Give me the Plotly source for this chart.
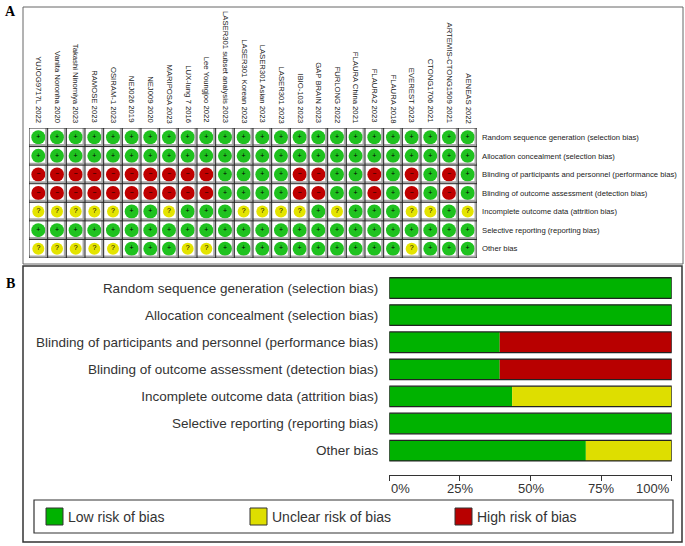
import plotly.graph_objects as go

# studies (columns of the summary grid)
studies = [
    "YUJOG9717L 2022", "Vanita Noronha 2020", "Takashi Ninomiya 2023", "RAMOSE 2023",
    "OSIRAM-1 2023", "NEJ026 2019", "NEJ009 2020", "MARIPOSA 2023", "LUX-lung 7 2016",
    "Lee Youngjoo 2022", "LASER301 subset analysis 2023", "LASER301 Korean 2023",
    "LASER301 Asian 2023", "LASER301 2023", "IBIO-103 2023", "GAP BRAIN 2023",
    "FURLONG 2022", "FLAURA China 2021", "FLAURA2 2023", "FLAURA 2018",
    "EVEREST 2023", "CTONG1706 2021", "ARTEMIS-CTONG1509 2021", "AENEAS 2022",
]

domains = [
    "Random sequence generation (selection bias)",
    "Allocation concealment (selection bias)",
    "Blinding of participants and personnel (performance bias)",
    "Blinding of outcome assessment (detection bias)",
    "Incomplete outcome data (attrition bias)",
    "Selective reporting (reporting bias)",
    "Other bias",
]

# judgements per domain, one char per study: + low, - high, ? unclear
judgements = [
    "++++++++++++++++++++++++",
    "++++++++++++++++++++++++",
    "----------++++--++-+-+-+",
    "----------++++--++-+-+-+",
    "?????++?+++????+?+++??+?",
    "++++++++++++++++++++++++",
    "?????+++??++++++++++?+++",
]

# percentages shown in panel B
low_pct = [100, 100, 39.1, 39.1, 43.5, 100, 69.6]
unclear_pct = [0, 0, 0, 0, 56.5, 0, 30.4]
high_pct = [0, 0, 60.9, 60.9, 0, 0, 0]

W, H = 685, 546
FONT = "Liberation Sans"
GREEN_DOT, RED_DOT, YELLOW_DOT = "#1fc21f", "#c00000", "#e4e400"
GREEN, YELLOW, RED = "#00b200", "#dede00", "#b80000"


def px(x):
    return x / W


def py(y):
    return 1 - y / H


fig = go.Figure()

# ---- panel A: dots
styles = {
    "+": (GREEN_DOT, 14, "+"),
    "-": (RED_DOT, 14, "\u2212"),
    "?": (YELLOW_DOT, 12, "?"),
}
for key, (color, size, sym) in styles.items():
    xs, ys = [], []
    for r, row in enumerate(judgements):
        for c, j in enumerate(row):
            if j == key:
                xs.append(c)
                ys.append(r)
    fig.add_trace(go.Scatter(
        x=xs, y=ys, mode="markers+text", text=[sym] * len(xs),
        textposition="middle center",
        textfont=dict(size=7, color="black", family=FONT),
        marker=dict(color=color, size=size, line=dict(width=0)),
        xaxis="x", yaxis="y", showlegend=False, hoverinfo="skip",
    ))

shapes = []
# grid lines with grey shadow
for i in range(len(studies) + 1):
    shapes.append(dict(type="line", xref="x", yref="y", x0=i - 0.58, x1=i - 0.58,
                       y0=-0.5, y1=6.5, line=dict(color="#a8a8a8", width=2)))
for j in range(len(domains) + 1):
    shapes.append(dict(type="line", xref="x", yref="y", x0=-0.5, x1=23.5,
                       y0=j - 0.58, y1=j - 0.58, line=dict(color="#a8a8a8", width=2)))
for i in range(len(studies) + 1):
    shapes.append(dict(type="line", xref="x", yref="y", x0=i - 0.5, x1=i - 0.5,
                       y0=-0.5, y1=6.5, line=dict(color="#222", width=1)))
for j in range(len(domains) + 1):
    shapes.append(dict(type="line", xref="x", yref="y", x0=-0.5, x1=23.5,
                       y0=j - 0.5, y1=j - 0.5, line=dict(color="#222", width=1)))

annotations = []
for i, s in enumerate(studies):
    annotations.append(dict(x=i, xref="x", y=py(125), yref="paper", text=s,
                            textangle=90, xanchor="center", yanchor="bottom",
                            showarrow=False, font=dict(size=7.7, family=FONT, color="#222")))

# ---- panel B: stacked bars
cum = [a + b for a, b in zip(low_pct, unclear_pct)]
ypos = list(range(len(domains)))
fig.add_trace(go.Bar(y=ypos, x=low_pct, base=[0] * 7, orientation="h", width=0.76,
                     marker=dict(color=GREEN, line=dict(width=0)),
                     xaxis="x2", yaxis="y2", showlegend=False, hoverinfo="skip"))
fig.add_trace(go.Bar(y=ypos, x=unclear_pct, base=low_pct, orientation="h", width=0.76,
                     marker=dict(color=YELLOW, line=dict(width=0)),
                     xaxis="x2", yaxis="y2", showlegend=False, hoverinfo="skip"))
fig.add_trace(go.Bar(y=ypos, x=high_pct, base=cum, orientation="h", width=0.76,
                     marker=dict(color=RED, line=dict(width=0)),
                     xaxis="x2", yaxis="y2", showlegend=False, hoverinfo="skip"))
fig.add_trace(go.Bar(y=ypos, x=[100] * 7, base=[0] * 7, orientation="h", width=0.76,
                     marker=dict(color="rgba(0,0,0,0)", line=dict(color="#222", width=1.3)),
                     xaxis="x2", yaxis="y2", showlegend=False, hoverinfo="skip"))

tick_vals = [0, 25, 50, 75, 100]
tick_text = ["0%", "25%", "50%", "75%", "100%"]
anchors = ["left", "center", "center", "center", "right"]
for v, t, a in zip(tick_vals, tick_text, anchors):
    annotations.append(dict(x=v, xref="x2", y=py(488), yref="paper", text=t,
                            xanchor=a, yanchor="middle", showarrow=False,
                            font=dict(size=13, family=FONT, color="#333")))

# panel boxes
shapes.append(dict(type="rect", xref="paper", yref="paper", x0=px(23), x1=px(683),
                   y0=py(264), y1=py(7), line=dict(color="#666", width=1)))
shapes.append(dict(type="rect", xref="paper", yref="paper", x0=px(23), x1=px(682),
                   y0=py(542), y1=py(266), line=dict(color="#333", width=1.5)))

# legend box
shapes.append(dict(type="rect", xref="paper", yref="paper", x0=px(34), x1=px(673),
                   y0=py(533), y1=py(500), line=dict(color="#333", width=1.2)))
legend_items = [("Low risk of bias", GREEN, 46), ("Unclear risk of bias", YELLOW, 250),
                ("High risk of bias", RED, 455)]
for label, color, x0 in legend_items:
    shapes.append(dict(type="rect", xref="paper", yref="paper", x0=px(x0), x1=px(x0 + 17),
                       y0=py(525), y1=py(508), fillcolor=color,
                       line=dict(color="#333", width=1)))
    annotations.append(dict(x=px(x0 + 20), xref="paper", y=py(517), yref="paper",
                            text=label, xanchor="left", yanchor="middle", showarrow=False,
                            font=dict(size=14, family=FONT, color="#333")))

# panel letters
for letter, yy in [("A", 11), ("B", 283)]:
    annotations.append(dict(x=px(10), xref="paper", y=py(yy), yref="paper",
                            text="<b>%s</b>" % letter, xanchor="center", yanchor="middle",
                            showarrow=False,
                            font=dict(size=14, family="Liberation Serif", color="black")))

fig.update_layout(
    width=W, height=H, autosize=False,
    margin=dict(l=0, r=0, t=0, b=0),
    paper_bgcolor="white", plot_bgcolor="rgba(0,0,0,0)",
    barmode="overlay",
    xaxis=dict(domain=[px(29), px(477)], range=[-0.5, 23.5], visible=False,
               fixedrange=True),
    yaxis=dict(domain=[py(258), py(128)], range=[6.5, -0.5], side="right",
               tickvals=ypos, ticktext=domains, ticks="", showgrid=False,
               zeroline=False, showline=False, ticklabelstandoff=4,
               tickfont=dict(size=7.7, family=FONT, color="#222"), fixedrange=True),
    xaxis2=dict(domain=[px(389.3), px(671.7)], range=[0, 100], anchor="y2",
                tickvals=tick_vals, showticklabels=False, ticks="outside",
                ticklen=5, tickcolor="#333", showline=True, linecolor="#333",
                linewidth=1, showgrid=False, zeroline=False, fixedrange=True),
    yaxis2=dict(domain=[py(475), py(274.5)], range=[6.9, -0.5], anchor="x2",
                tickvals=ypos, ticktext=domains, ticks="", showgrid=False,
                zeroline=False, showline=False, ticklabelstandoff=10,
                tickfont=dict(size=13.5, family=FONT, color="#333"), fixedrange=True),
    shapes=shapes,
    annotations=annotations,
)

fig.write_html("out.html", config={"displayModeBar": False},
               post_script="document.body.style.margin='0';")
